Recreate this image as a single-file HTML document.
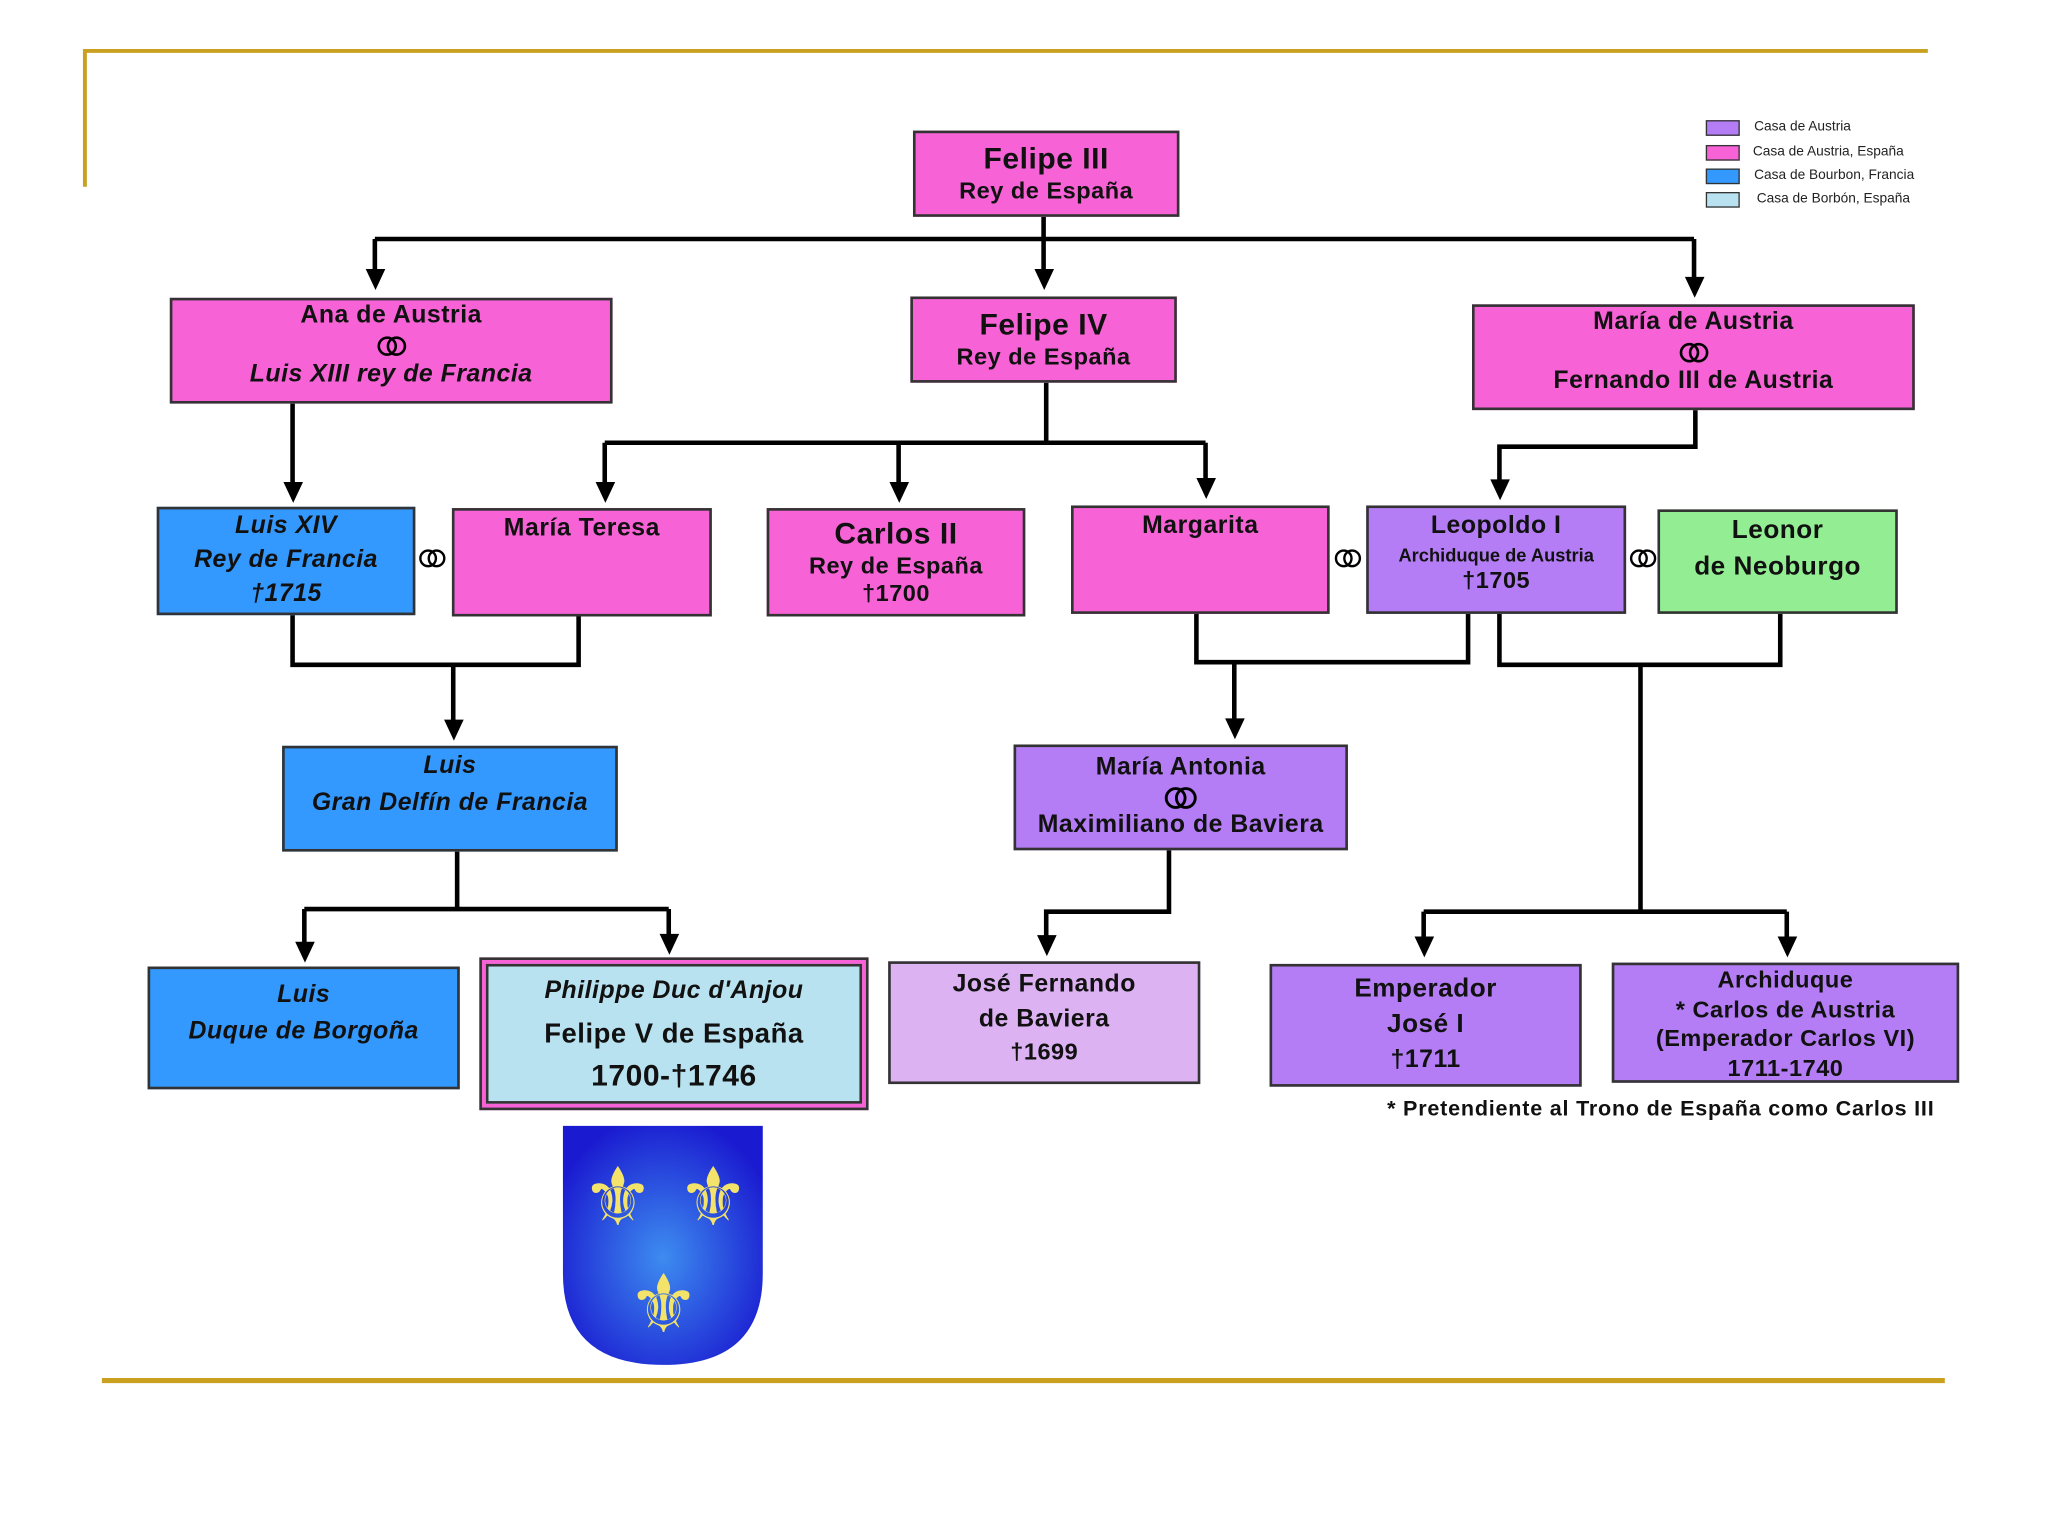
<!DOCTYPE html>
<html><head><meta charset="utf-8"><style>
html,body{margin:0;padding:0;background:#fff;}
#w{position:absolute;left:0;top:0;width:1568px;height:1176px;transform:scale(1.306122);transform-origin:0 0;font-family:"Liberation Sans",Arial,sans-serif;}
.b{position:absolute;box-sizing:border-box;border:2px solid #333;text-align:center;font-weight:bold;color:#111;line-height:1.2;}
.p{background:#f762d6;}.bl{background:#3399ff;}.pu{background:#b47df5;}.lp{background:#dcb2f2;}.g{background:#93ee93;}
.i{font-style:italic;}
.lg{position:absolute;font-size:10.5px;color:#222;}
.sw{position:absolute;width:24px;height:10px;border:1.5px solid #333;}
.m{display:inline-block;vertical-align:middle;}
.x{letter-spacing:0.4px;}
</style></head><body><div id="w">
<svg width="0" height="0" style="position:absolute"><defs><symbol id="rg" viewBox="0 0 24 18"><circle cx="8.5" cy="9" r="6.5" fill="none" stroke="#000" stroke-width="2"/><circle cx="15.5" cy="9" r="6.5" fill="none" stroke="#000" stroke-width="2"/></symbol></defs></svg>
<svg width="1568" height="1176" style="position:absolute;left:0;top:0">
<defs><radialGradient id="sg" cx="50%" cy="55%" r="60%"><stop offset="0" stop-color="#3d8cf0"/><stop offset="1" stop-color="#1a1ad0"/></radialGradient></defs>
<g stroke="#c9a020" stroke-width="3" fill="none"><path d="M65 143V39H1476"/><path d="M78 1057H1489" stroke-width="4"/></g>
<g stroke="#000" stroke-width="3.5" fill="none">
<path d="M799 166V183M287 183H1297M287 183V210M799 183V210M1297 183V214"/>
<path d="M224 309V372"/>
<path d="M801 293V339M463 339H923M463 339V372M688 339V372M923 339V369"/>
<path d="M1298 314V342H1148V370"/>
<path d="M224 471V509H443V472M347 509V554"/>
<path d="M916 470V507H1124V470M945 507V553"/>
<path d="M1148 470V509H1363V470M1256 509V698M1090 698H1368M1090 698V720M1368 698V720"/>
<path d="M350 652V696M233 696H512M233 696V724M512 696V718"/>
<path d="M895 651V698H801V719"/>
</g>
<g fill="#000">
<path d="M280 206h15l-7.5 16z"/><path d="M792 206h15l-7.5 16z"/><path d="M1290 212h15l-7.5 16z"/>
<path d="M217 369h15l-7.5 16z"/><path d="M456 369h15l-7.5 16z"/><path d="M681 369h15l-7.5 16z"/><path d="M916 366h15l-7.5 16z"/><path d="M1141 367h15l-7.5 16z"/>
<path d="M340 551h15l-7.5 16z"/><path d="M938 550h15l-7.5 16z"/>
<path d="M226 721h15l-7.5 16z"/><path d="M505 715h15l-7.5 16z"/><path d="M794 716h15l-7.5 16z"/><path d="M1083 717h15l-7.5 16z"/><path d="M1361 717h15l-7.5 16z"/>
</g>
<path d="M431 862H584V975Q584 1045 508 1045Q431 1045 431 975Z" fill="url(#sg)"/>
<g fill="#f3e36a" font-size="62" font-family="DejaVu Sans" text-anchor="middle"><text x="473" y="938">⚜</text><text x="546" y="938">⚜</text><text x="508" y="1020">⚜</text></g>
<use href="#rg" x="320" y="419" width="22" height="17"/>
<use href="#rg" x="1021" y="419" width="22" height="17"/>
<use href="#rg" x="1247" y="419" width="22" height="17"/>
</svg>
<div class="sw" style="left:1306px;top:92px;background:#b47df5"></div><div class="lg" style="left:1343px;top:91px">Casa de Austria</div>
<div class="sw" style="left:1306px;top:111px;background:#f762d6"></div><div class="lg" style="left:1342px;top:110px">Casa de Austria, España</div>
<div class="sw" style="left:1306px;top:129px;background:#3399ff"></div><div class="lg" style="left:1343px;top:128px">Casa de Bourbon, Francia</div>
<div class="sw" style="left:1306px;top:147px;background:#b9e2f0"></div><div class="lg" style="left:1345px;top:146px">Casa de Borbón, España</div>

<div class="b p x" style="left:699px;top:100px;width:204px;height:66px;padding-top:6px"><div style="font-size:23px">Felipe III</div><div style="font-size:18px">Rey de España</div></div>
<div class="b p x" style="left:130px;top:228px;width:339px;height:81px;padding-top:1px;font-size:19px"><div>Ana de Austria</div><div style="height:22px"><svg class="m" width="24" height="18"><use href="#rg"/></svg></div><div class="i">Luis XIII rey de Francia</div></div>
<div class="b p x" style="left:697px;top:227px;width:204px;height:66px;padding-top:6px"><div style="font-size:23px">Felipe IV</div><div style="font-size:18px">Rey de España</div></div>
<div class="b p x" style="left:1127px;top:233px;width:339px;height:81px;padding-top:1px;font-size:19px"><div>María de Austria</div><div style="height:22px"><svg class="m" width="24" height="18"><use href="#rg"/></svg></div><div>Fernando III de Austria</div></div>

<div class="b bl i x" style="left:120px;top:388px;width:198px;height:83px;font-size:19px;line-height:26px"><div>Luis XIV</div><div>Rey de Francia</div><div>†1715</div></div>
<div class="b p x" style="left:346px;top:389px;width:199px;height:83px;font-size:19px;padding-top:3px">María Teresa</div>
<div class="b p x" style="left:587px;top:389px;width:198px;height:83px;padding-top:4px"><div style="font-size:23px">Carlos II</div><div style="font-size:18px">Rey de España</div><div style="font-size:18px">†1700</div></div>
<div class="b p x" style="left:820px;top:387px;width:198px;height:83px;font-size:19px;padding-top:3px">Margarita</div>
<div class="b pu x" style="left:1046px;top:387px;width:199px;height:83px;padding-top:3px"><div style="font-size:19px">Leopoldo I</div><div style="font-size:14px;margin-top:2px;letter-spacing:0">Archiduque de Austria</div><div style="font-size:18px">†1705</div></div>
<div class="b g x" style="left:1269px;top:390px;width:184px;height:80px;font-size:20px;line-height:28px;padding-top:0"><div>Leonor</div><div>de Neoburgo</div></div>

<div class="b bl i x" style="left:216px;top:571px;width:257px;height:81px;font-size:19px;line-height:28px"><div>Luis</div><div>Gran Delfín de Francia</div></div>
<div class="b pu x" style="left:776px;top:570px;width:256px;height:81px;font-size:19px;padding-top:5px"><div>María Antonia</div><div style="height:21px"><svg class="m" width="28" height="20"><use href="#rg"/></svg></div><div>Maximiliano de Baviera</div></div>

<div class="b bl i x" style="left:113px;top:740px;width:239px;height:94px;font-size:19px;line-height:28px;padding-top:6px"><div>Luis</div><div>Duque de Borgoña</div></div>
<div class="b p x" style="left:367px;top:733px;width:298px;height:117px;padding:3px"><div style="background:#b9e2f0;border:2px solid #333;height:100%;box-sizing:border-box;padding-top:8px"><div class="i" style="font-size:19px">Philippe Duc d'Anjou</div><div style="font-size:21px;margin-top:8px">Felipe V de España</div><div style="font-size:23px;margin-top:6px">1700-†1746</div></div></div>
<div class="b lp x" style="left:680px;top:736px;width:239px;height:94px;font-size:19px;line-height:27px;padding-top:2px"><div>José Fernando</div><div>de Baviera</div><div style="font-size:18px;line-height:22px">†1699</div></div>
<div class="b pu x" style="left:972px;top:738px;width:239px;height:94px;font-size:20px;line-height:27px;padding-top:4px"><div>Emperador</div><div>José I</div><div style="font-size:19px">†1711</div></div>
<div class="b pu x" style="left:1234px;top:737px;width:266px;height:92px;font-size:18px;line-height:22.5px;padding-top:0"><div>Archiduque</div><div>* Carlos de Austria</div><div>(Emperador Carlos VI)</div><div>1711-1740</div></div>
<div style="position:absolute;left:1062px;top:840px;font-size:16.5px;font-weight:bold;color:#111;letter-spacing:0.6px">* Pretendiente al Trono de España como Carlos III</div>
</div></body></html>
